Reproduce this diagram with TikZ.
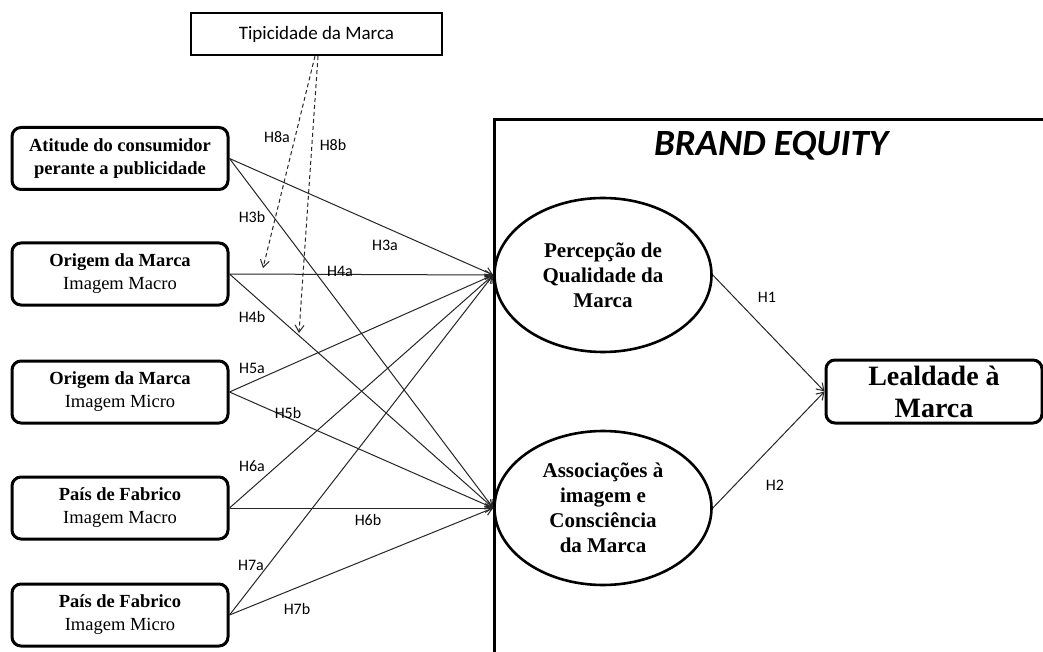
\documentclass[tikz,border=0pt]{standalone}
\usepackage{fontspec}
\setmainfont{Liberation Serif}
\newfontfamily\calfont{Carlito}
\usetikzlibrary{arrows.meta,shapes.geometric}

\begin{document}
\begin{tikzpicture}[x=1pt,y=-1pt,
 lbox/.style={draw, line width=3pt, rounded corners=9pt, minimum width=216pt, minimum height=62pt, inner sep=0pt, align=center, font=\fontsize{18.5}{23}\selectfont},
 ell/.style={draw, ellipse, line width=2.6pt, minimum width=217pt, minimum height=154pt, inner sep=0pt, align=center, font=\bfseries\fontsize{21}{25}\selectfont},
 hl/.style={font=\calfont\fontsize{16}{18}\selectfont, inner sep=1pt},
 arr/.style={draw=black!85, line width=1pt, -{Straight Barb[length=7pt,width=9pt]}},
 darr/.style={arr, dashed, dash pattern=on 4pt off 3pt}
]
\useasboundingbox (0,0) rectangle (1043,652);
\fill[white] (0,0) rectangle (1043,652);

% left boxes
\node[lbox] (att) at (120,158.5) {\textbf{Atitude do consumidor}\\\textbf{perante a publicidade}};
\node[lbox] (omac) at (120,274) {\textbf{Origem da Marca}\\Imagem Macro};
\node[lbox] (omic) at (120,392) {\textbf{Origem da Marca}\\Imagem Micro};
\node[lbox] (pmac) at (120,508) {\textbf{País de Fabrico}\\Imagem Macro};
\node[lbox] (pmic) at (120,615) {\textbf{País de Fabrico}\\Imagem Micro};

% top box
\node[draw, line width=2.2pt, minimum width=251pt, minimum height=42pt, inner sep=0pt, font=\calfont\fontsize{19}{21}\selectfont] (tip) at (316.5,34) {Tipicidade da Marca};

% brand equity frame
\draw[line width=3pt] (494,652) -- (494,120) -- (1043,120);
\node[font=\calfont\bfseries\itshape\fontsize{37}{40}\selectfont] (be) at (771,146) {BRAND EQUITY};

% ellipses
\node[ell] (pq) at (603,275) {Percepção de\\Qualidade da\\Marca};
\node[ell] (as) at (603,508) {Associações à\\imagem e\\Consciência\\da Marca};

% loyalty
\node[draw, line width=3pt, rounded corners=9pt, minimum width=216pt, minimum height=63pt, inner sep=0pt, align=center, font=\bfseries\fontsize{28}{32}\selectfont] (lea) at (934,391.5) {Lealdade à\\Marca};

% connectors
\draw[arr] (att.east) -- (pq.west);
\draw[arr] (att.east) -- (as.west);
\draw[arr] (omac.east) -- (pq.west);
\draw[arr] (omac.east) -- (as.west);
\draw[arr] (omic.east) -- (pq.west);
\draw[arr] (omic.east) -- (as.west);
\draw[arr] (pmac.east) -- (pq.west);
\draw[arr] (pmac.east) -- (as.west);
\draw[arr] (pmic.east) -- (pq.west);
\draw[arr] (pmic.east) -- (as.west);
\draw[arr] (pq.east) -- (lea.west);
\draw[arr] (as.east) -- (lea.west);

% dashed moderating arrows
\coordinate (m1) at (263,268);
\coordinate (m2) at (299,333);
\draw[darr] ([xshift=-1.5pt]tip.south) -- (m1);
\draw[darr] ([xshift=1.5pt]tip.south) -- (m2);

% labels
\node[hl] (l8a) at (277,137) {H8a};
\node[hl] (l8b) at (333,145) {H8b};
\node[hl] (l3b) at (252,217) {H3b};
\node[hl] (l3a) at (385,245) {H3a};
\node[hl] (l4a) at (340,271) {H4a};
\node[hl] (l4b) at (252,317) {H4b};
\node[hl] (l5a) at (252,368) {H5a};
\node[hl] (l5b) at (288,413) {H5b};
\node[hl] (l6a) at (252,466) {H6a};
\node[hl] (l6b) at (368,520) {H6b};
\node[hl] (l7a) at (251,565) {H7a};
\node[hl] (l7b) at (297,609) {H7b};
\node[hl] (l1) at (767,297) {H1};
\node[hl] (l2) at (775,485) {H2};
\end{tikzpicture}
\end{document}
